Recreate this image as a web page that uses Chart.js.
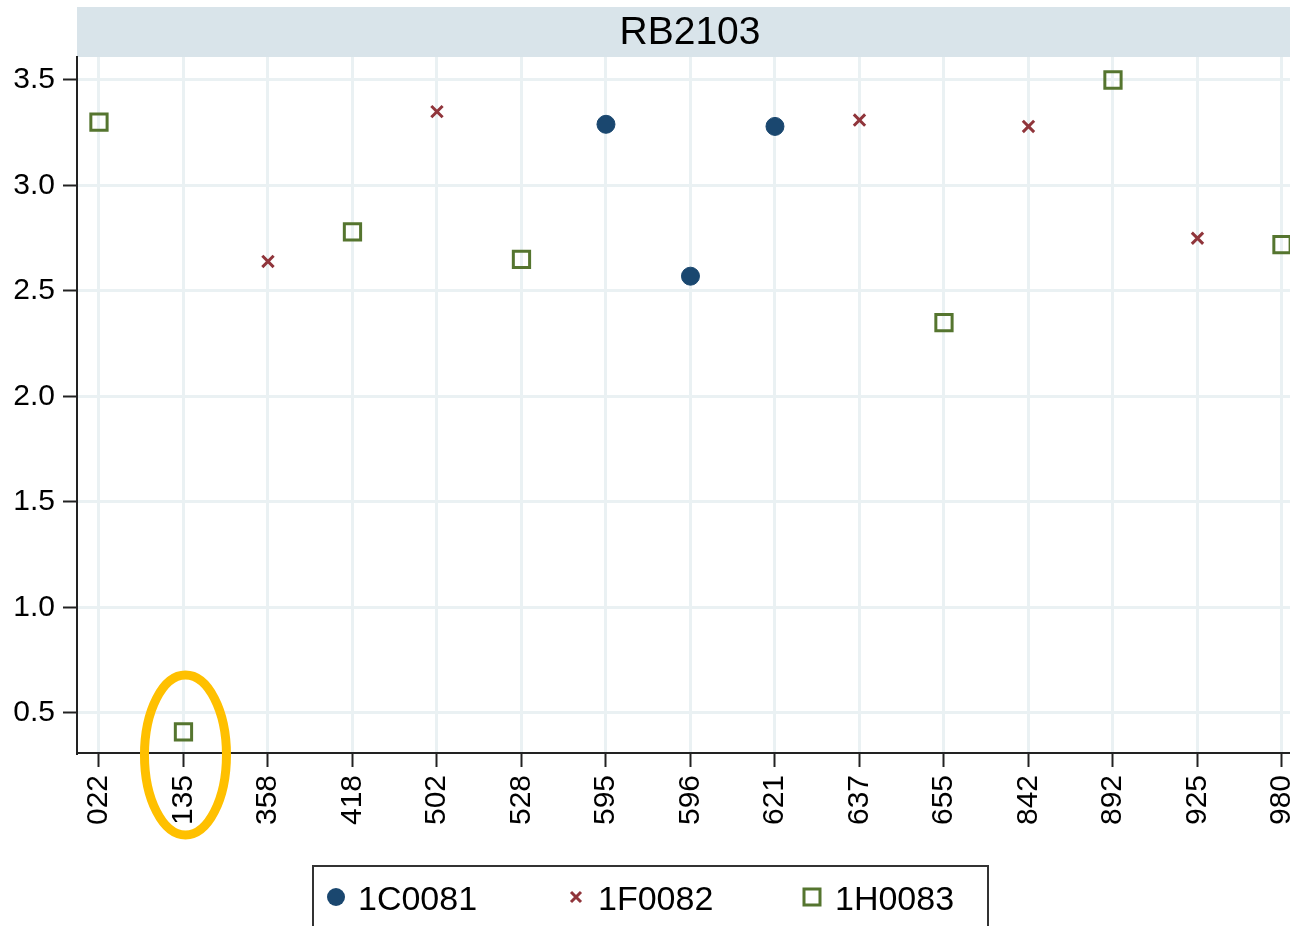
<!DOCTYPE html>
<html>
<head>
<meta charset="utf-8">
<script src="https://cdn.jsdelivr.net/npm/chart.js@4"></script>
<style>
  body { margin: 0; background: #fff; }
  #wrap { width: 1290px; height: 926px; }
</style>
</head>
<body>
<div id="wrap"><canvas id="chart" width="1290" height="926"></canvas></div>
<script>
// categories on the x axis
const categories = ["022", "135", "358", "418", "502", "528", "595", "596", "621", "637", "655", "842", "892", "925", "980"];
const yTicks = [0.5, 1.0, 1.5, 2.0, 2.5, 3.0, 3.5];
const panelTitle = "RB2103";

// series: category + value
const c0081Cats = ["595", "596", "621"];
const c0081Vals = [3.29, 2.57, 3.28];
const f0082Cats = ["358", "502", "637", "842", "925"];
const f0082Vals = [2.64, 3.35, 3.31, 3.28, 2.75];
const h0083Cats = ["022", "135", "418", "528", "655", "892", "980"];
const h0083Vals = [3.30, 0.41, 2.78, 2.65, 2.35, 3.50, 2.72];

const navy = "#1a476f";
const maroon = "#90353b";
const green = "#55752f";
const FONT = "'Liberation Sans', Arial, sans-serif";

function toPoints(cats, vals) {
  return cats.map((c, i) => ({ x: categories.indexOf(c), y: vals[i] }));
}

// title band, legend box and the highlight ring
const extras = {
  id: "extras",
  beforeDraw(chart) {
    const ctx = chart.ctx;
    const area = chart.chartArea;
    ctx.save();
    ctx.fillStyle = "#d9e4ea";
    ctx.fillRect(area.left, 7, chart.width - area.left, area.top - 7);
    ctx.fillStyle = "#000";
    ctx.font = "39px " + FONT;
    ctx.textAlign = "center";
    ctx.textBaseline = "middle";
    ctx.fillText(panelTitle, 690, 33);
    ctx.restore();
  },
  afterDraw(chart) {
    const ctx = chart.ctx;
    const xs = chart.scales.x;
    ctx.save();
    // orange ring around 135
    ctx.strokeStyle = "#ffc000";
    ctx.lineWidth = 9;
    ctx.beginPath();
    ctx.ellipse(xs.getPixelForValue(categories.indexOf("135")) + 2, chart.chartArea.bottom + 2, 41, 80, 0, 0, Math.PI * 2);
    ctx.stroke();

    // legend box
    ctx.strokeStyle = "#333";
    ctx.lineWidth = 2;
    ctx.strokeRect(313, 866, 675, 80);
    const items = [
      { x: 336, tx: 358, ds: chart.data.datasets[0] },
      { x: 576, tx: 598, ds: chart.data.datasets[1] },
      { x: 812, tx: 835, ds: chart.data.datasets[2] }
    ];
    ctx.font = "34px " + FONT;
    ctx.textAlign = "left";
    ctx.textBaseline = "alphabetic";
    items.forEach(it => {
      const d = it.ds;
      ctx.fillStyle = d.pointBackgroundColor;
      ctx.strokeStyle = d.pointBorderColor;
      ctx.lineWidth = d.pointBorderWidth;
      ctx.beginPath();
      if (d.pointStyle === "circle") {
        ctx.arc(it.x, 897, 9, 0, Math.PI * 2);
        ctx.fill();
      } else if (d.pointStyle === "crossRot") {
        ctx.moveTo(it.x - 5, 892); ctx.lineTo(it.x + 5, 902);
        ctx.moveTo(it.x + 5, 892); ctx.lineTo(it.x - 5, 902);
        ctx.stroke();
      } else {
        ctx.rect(it.x - 8, 889, 16, 16);
        ctx.stroke();
      }
      ctx.fillStyle = "#000";
      ctx.fillText(d.label, it.tx, 910);
    });
    ctx.restore();
  }
};

new Chart(document.getElementById("chart"), {
  type: "scatter",
  data: {
    datasets: [
      {
        label: "1C0081",
        data: toPoints(c0081Cats, c0081Vals),
        pointStyle: "circle",
        pointRadius: 9,
        pointBackgroundColor: navy,
        pointBorderColor: navy,
        pointBorderWidth: 1
      },
      {
        label: "1F0082",
        data: toPoints(f0082Cats, f0082Vals),
        pointStyle: "crossRot",
        pointRadius: 8,
        pointBackgroundColor: maroon,
        pointBorderColor: maroon,
        pointBorderWidth: 3
      },
      {
        label: "1H0083",
        data: toPoints(h0083Cats, h0083Vals),
        pointStyle: "rect",
        pointRadius: 11.5,
        pointBackgroundColor: "rgba(255,255,255,0)",
        pointBorderColor: green,
        pointBorderWidth: 3
      }
    ]
  },
  options: {
    responsive: false,
    animation: false,
    layout: { autoPadding: false, padding: { top: 57, left: 0, right: 0, bottom: 0 } },
    plugins: {
      legend: { display: false },
      title: { display: false },
      tooltip: { enabled: false }
    },
    scales: {
      x: {
        type: "linear",
        min: -0.26,
        max: 14.095,
        afterBuildTicks: s => { s.ticks = categories.map((c, i) => ({ value: i })); },
        afterFit: s => { s.height = 173; s.paddingLeft = 0; s.paddingRight = 0; },
        grid: { color: "#eaf1f3", lineWidth: 3, tickColor: "#222", tickWidth: 2, tickLength: 14 },
        border: { color: "#222", width: 2 },
        ticks: {
          minRotation: 90,
          maxRotation: 90,
          padding: 8,
          color: "#000",
          font: { family: FONT, size: 30 },
          callback: v => categories[v]
        }
      },
      y: {
        min: 0.31,
        max: 3.609,
        afterBuildTicks: s => { s.ticks = yTicks.map(v => ({ value: v })); },
        afterFit: s => { s.width = 77; s.paddingTop = 0; s.paddingBottom = 0; },
        grid: { color: "#eaf1f3", lineWidth: 3, tickColor: "#222", tickWidth: 2, tickLength: 14 },
        border: { color: "#222", width: 2 },
        ticks: {
          padding: 8,
          color: "#000",
          font: { family: FONT, size: 30 },
          callback: v => Number(v).toFixed(1)
        }
      }
    }
  },
  plugins: [extras]
});
</script>
</body>
</html>
